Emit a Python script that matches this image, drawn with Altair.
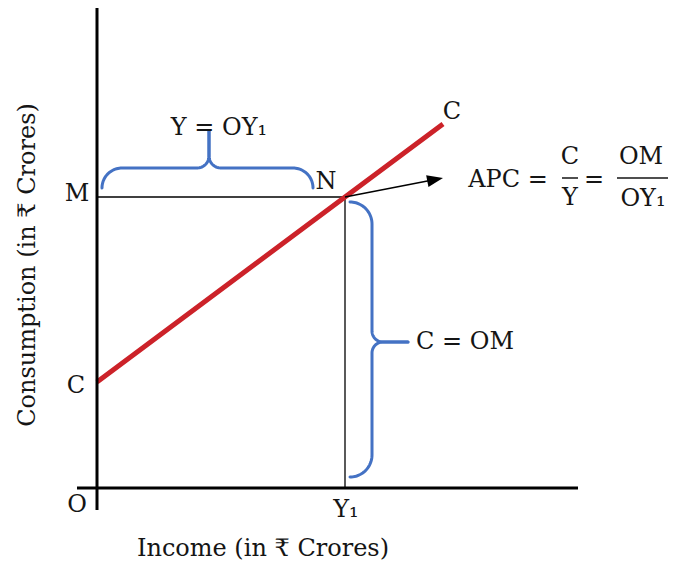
import altair as alt
import pandas as pd
import numpy as np

# ---- chart units: origin O at (0, 0), x = income, y = consumption ----
x_axis_span = [-20, 481]          # horizontal axis line
y_axis_span = [-22, 480]          # vertical axis line
income_Y1 = 248                   # OY1
consumption_M = 291               # OM
autonomous_C = 106                # intercept C
line_end_x = 346                  # end of the consumption line
line_end_y = 364

# consumption line points (x, y)
cons_x = [0, income_Y1, line_end_x]
cons_y = [autonomous_C, consumption_M, line_end_y]

# arrow from N towards APC formula
arrow_tip = [346, 310]

# braces: (start, end, base, tip position, depth to shaft, total depth, tip radius, orientation)
braces = [
    dict(name="h", a=5, b=216, base=300, m=112, d1=20, dt=57, r2=12, orient="h"),
    dict(name="v", a=286, b=11, base=253, m=146, d1=22, dt=58, r2=11, orient="v"),
]

# labels
lab_text = ["Y = OY₁", "M", "N", "C", "C", "O", "Y₁", "C = OM",
            "APC =", "C", "Y", "=", "OM", "OY₁"]
lab_x = [122, -20, 229, 355, -21, -20, 249, 368, 411, 473, 473, 497, 544, 546]
lab_y = [360, 294, 306, 376, 102, -17, -22, 146, 308, 331, 290, 308, 331, 289]

frac_bar_x = [[465, 481], [520, 572]]
frac_bar_y = 310

x_title = "Income (in ₹ Crores)"
x_title_pos = [166, -61]
y_title = "Consumption (in ₹ Crores)"
y_title_pos = [-69, 223]

FONT = "DejaVu Serif"
FS = 24
INK = "#151515"

xs = alt.Scale(domain=[-89, 571], nice=False, zero=False)
ys = alt.Scale(domain=[-73, 480], nice=False, zero=False)
X = lambda f: alt.X(f, type="quantitative", scale=xs, axis=None)
Y = lambda f: alt.Y(f, type="quantitative", scale=ys, axis=None)


def brace_half(e, m, base, d1, dt, r2, n=24):
    s = 1 if m > e else -1
    t = np.linspace(0, np.pi / 2, n)
    u1 = e + s * (d1 - d1 * np.cos(t))
    v1 = base + d1 * np.sin(t)
    u2 = m - s * r2 + s * r2 * np.sin(t)
    v2 = base + d1 + r2 - r2 * np.cos(t)
    u = np.concatenate([u1, u2, [m]])
    v = np.concatenate([v1, v2, [base + dt]])
    return u, v


rows = []
for br in braces:
    for side, e in (("1", br["a"]), ("2", br["b"])):
        u, v = brace_half(e, br["m"], br["base"], br["d1"], br["dt"], br["r2"])
        for i, (uu, vv) in enumerate(zip(u, v)):
            if br["orient"] == "h":
                rows.append(dict(seg=br["name"] + side, ord=i, x=uu, y=vv))
            else:
                rows.append(dict(seg=br["name"] + side, ord=i, x=vv, y=uu))
brace_df = pd.DataFrame(rows)

# axes
axes_df = pd.DataFrame({
    "x": [x_axis_span[0], 0], "x2": [x_axis_span[1], 0],
    "y": [0, y_axis_span[0]], "y2": [0, y_axis_span[1]],
})
axes = alt.Chart(axes_df).mark_rule(color="black", strokeWidth=3).encode(
    x=X("x"), x2="x2", y=Y("y"), y2="y2")

# guide lines M-N and N-Y1
guides_df = pd.DataFrame({
    "x": [0, income_Y1], "x2": [income_Y1, income_Y1],
    "y": [consumption_M, 0], "y2": [consumption_M, consumption_M],
})
guides = alt.Chart(guides_df).mark_rule(color="black", strokeWidth=1.3).encode(
    x=X("x"), x2="x2", y=Y("y"), y2="y2")

cons = alt.Chart(pd.DataFrame({"x": cons_x, "y": cons_y})).mark_line(
    color="#cc2229", strokeWidth=5).encode(x=X("x"), y=Y("y"))

braces_layer = alt.Chart(brace_df).mark_line(
    color="#4472c4", strokeWidth=3, strokeCap="round").encode(
    x=X("x"), y=Y("y"), detail="seg:N", order="ord:Q")

# arrow
N = np.array([income_Y1, consumption_M], dtype=float)
T = np.array(arrow_tip, dtype=float)
d = T - N
d_unit = d / np.linalg.norm(d)
head_len = 16
head_c = T - d_unit * head_len / 2
ang = float(np.degrees(np.arctan2(d_unit[0], d_unit[1])))  # clockwise from up
arrow_line = alt.Chart(pd.DataFrame({"x": [N[0], head_c[0]], "y": [N[1], head_c[1]]})).mark_line(
    color="black", strokeWidth=1.5).encode(x=X("x"), y=Y("y"))
arrow_head = alt.Chart(pd.DataFrame({"x": [head_c[0]], "y": [head_c[1]]})).mark_point(
    shape="M0,-1L0.75,1L-0.75,1Z", filled=True, color="black", opacity=1,
    size=head_len ** 2, angle=ang, strokeWidth=0).encode(x=X("x"), y=Y("y"))

labels = alt.Chart(pd.DataFrame({"x": lab_x, "y": lab_y, "t": lab_text})).mark_text(
    font=FONT, fontSize=FS, color=INK, align="center", baseline="middle").encode(
    x=X("x"), y=Y("y"), text="t:N")

bars_df = pd.DataFrame({"x": [b[0] for b in frac_bar_x], "x2": [b[1] for b in frac_bar_x],
                        "y": [frac_bar_y] * 2})
bars = alt.Chart(bars_df).mark_rule(color=INK, strokeWidth=1.5).encode(
    x=X("x"), x2="x2", y=Y("y"))

xt = alt.Chart(pd.DataFrame({"x": [x_title_pos[0]], "y": [x_title_pos[1]], "t": [x_title]})).mark_text(
    font=FONT, fontSize=FS, color=INK, align="center", baseline="middle").encode(
    x=X("x"), y=Y("y"), text="t:N")
yt = alt.Chart(pd.DataFrame({"x": [y_title_pos[0]], "y": [y_title_pos[1]], "t": [y_title]})).mark_text(
    font=FONT, fontSize=FS, color=INK, align="center", baseline="middle", angle=270).encode(
    x=X("x"), y=Y("y"), text="t:N")

chart = alt.layer(guides, cons, braces_layer, arrow_line, arrow_head, axes, bars,
                  labels, xt, yt).properties(
    width=660, height=553, padding=0,
    autosize=alt.AutoSizeParams(type="none"),
    background="white",
).configure_view(stroke=None)

chart.save("out.html", embed_options={"renderer": "svg", "actions": False})
